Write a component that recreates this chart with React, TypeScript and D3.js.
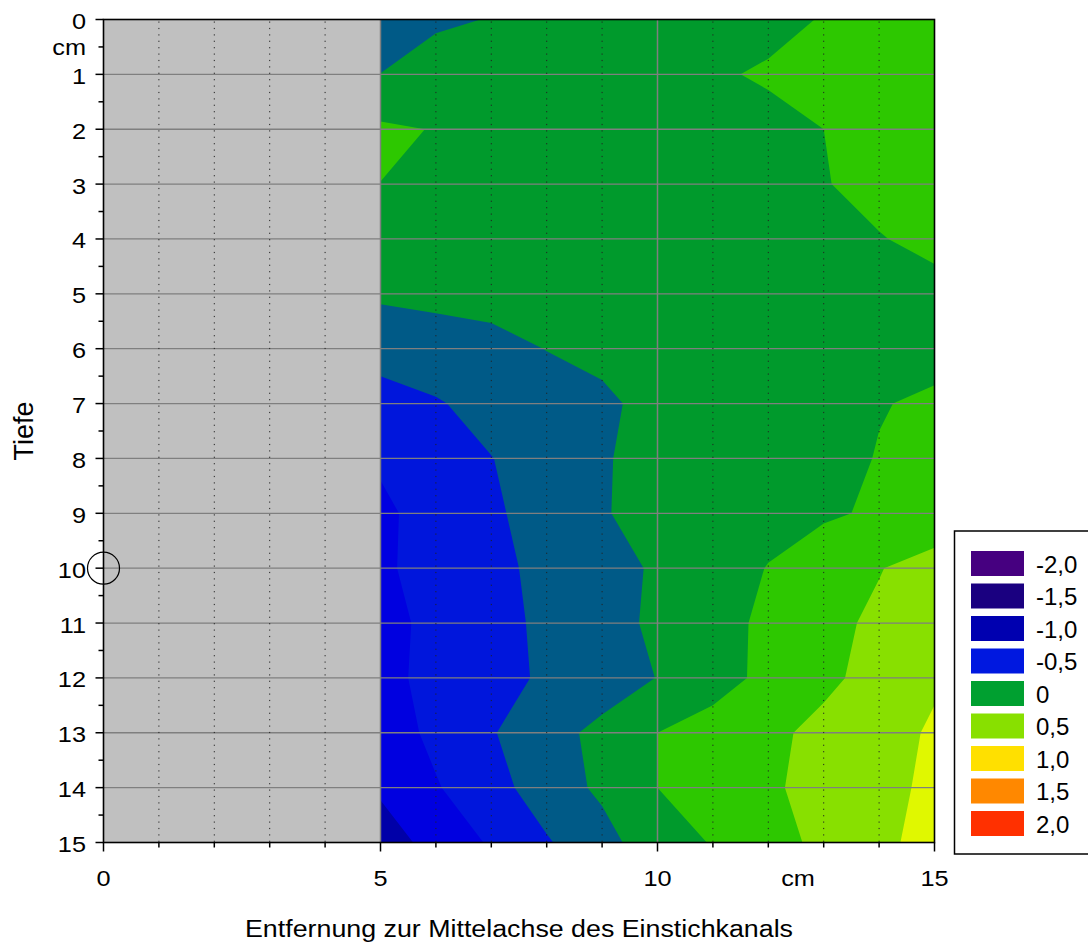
import React, { useRef, useEffect } from 'react';
import * as d3 from 'd3';

// sampling positions of the measured field (cm)
const distances = [5, 6, 7, 8, 9, 10, 11, 12, 13, 14, 15];
const depths = [0, 1, 2, 3, 4, 5, 6, 7, 8, 9, 10, 11, 12, 13, 14, 15];

// one row per depth, one value per distance
const grid = [
  [-0.15, -0.02, 0.005, 0.04, 0.07, 0.10, 0.14, 0.20, 0.26, 0.30, 0.33],
  [0.003, 0.06, 0.08, 0.10, 0.12, 0.15, 0.23, 0.27, 0.30, 0.33, 0.35],
  [0.29, 0.24, 0.12, 0.10, 0.11, 0.13, 0.16, 0.20, 0.25, 0.30, 0.33],
  [0.248, 0.12, 0.10, 0.09, 0.10, 0.12, 0.15, 0.19, 0.24, 0.31, 0.34],
  [0.06, 0.08, 0.08, 0.09, 0.10, 0.12, 0.15, 0.18, 0.21, 0.24, 0.30],
  [0.04, 0.06, 0.08, 0.09, 0.10, 0.11, 0.13, 0.15, 0.17, 0.18, 0.19],
  [-0.17, -0.11, -0.07, 0.005, 0.04, 0.07, 0.10, 0.13, 0.16, 0.19, 0.22],
  [-0.33, -0.27, -0.17, -0.10, -0.03, 0.05, 0.10, 0.15, 0.20, 0.245, 0.265],
  [-0.46, -0.38, -0.255, -0.15, -0.015, 0.06, 0.10, 0.15, 0.215, 0.255, 0.30],
  [-0.56, -0.38, -0.28, -0.17, -0.01, 0.05, 0.10, 0.16, 0.22, 0.28, 0.33],
  [-0.56, -0.36, -0.30, -0.20, -0.06, 0.02, 0.12, 0.26, 0.38, 0.49, 0.60],
  [-0.60, -0.42, -0.30, -0.22, -0.08, 0.04, 0.16, 0.30, 0.44, 0.54, 0.62],
  [-0.58, -0.42, -0.32, -0.22, -0.10, 0.005, 0.17, 0.30, 0.45, 0.58, 0.70],
  [-0.64, -0.44, -0.27, -0.07, 0.05, 0.25, 0.33, 0.45, 0.56, 0.60, 0.80],
  [-0.72, -0.52, -0.33, -0.14, 0.05, 0.25, 0.36, 0.47, 0.57, 0.68, 0.80],
  [-0.85, -0.68, -0.47, -0.27, -0.10, 0.17, 0.26, 0.42, 0.55, 0.70, 0.83],
];

const bandThresholds = [-0.75, -0.5, -0.25, 0, 0.25, 0.5, 0.75];
const bandColors = ['#0000a8', '#0000e0', '#0016dc', '#005a87', '#009a2c', '#2dc800', '#88e000', '#e0f800'];

const legendLabels = ['-2,0', '-1,5', '-1,0', '-0,5', '0', '0,5', '1,0', '1,5', '2,0'];
const legendColors = ['#460080', '#1a0080', '#0000b0', '#0018e0', '#00a030', '#88e000', '#ffe000', '#ff8800', '#ff3000'];

const xTickLabels = [0, 5, 10, 15];
const yTickLabels = [0, 1, 2, 3, 4, 5, 6, 7, 8, 9, 10, 11, 12, 13, 14, 15];

const FONT = '"Liberation Sans", Arial, sans-serif';

const App: React.FC = () => {
  const svgRef = useRef<SVGSVGElement>(null);

  useEffect(() => {
    if (!svgRef.current) return;
    const svg = d3.select(svgRef.current);
    svg.selectAll('*').remove();

    const x = d3.scaleLinear().domain([0, 15]).range([103.5, 934.5]);
    const y = d3.scaleLinear().domain([0, 15]).range([19.5, 842.5]);

    // stretched text like the original export
    const label = (g: any, tx: number, ty: number, txt: string, anchor: string, size: number, sx = 1) =>
      g.append('text')
        .attr('transform', `translate(${tx},${ty}) scale(${sx},1)`)
        .attr('text-anchor', anchor)
        .style('font-size', `${size}px`)
        .style('font-family', FONT)
        .attr('fill', '#000')
        .text(txt);

    // gray zone (needle channel)
    svg.append('rect')
      .attr('x', x(0)).attr('y', y(0))
      .attr('width', x(5) - x(0)).attr('height', y(15) - y(0))
      .attr('fill', '#c0c0c0');

    // contours
    svg.append('clipPath').attr('id', 'field')
      .append('rect')
      .attr('x', x(5)).attr('y', y(0))
      .attr('width', x(15) - x(5)).attr('height', y(15) - y(0));

    const nx = distances.length;
    const ny = depths.length;

    // where d3 puts sample i (i or i + 0.5 depending on version)
    const probe = d3.contours().size([2, 1]).thresholds([0.5])([0, 1]);
    const probeX = d3.min(probe[0].coordinates.flat(2) as any[], (p: any) => p[0]) as number;
    const off = probeX - 0.5;

    const gx = d3.scaleLinear().domain([off, off + nx - 1]).range([distances[0], distances[nx - 1]]);
    const gy = d3.scaleLinear().domain([off, off + ny - 1]).range([depths[0], depths[ny - 1]]);
    const path = d3.geoPath(d3.geoTransform({
      point(px: number, py: number) {
        (this as any).stream.point(x(gx(px)), y(gy(py)));
      },
    }));

    const field = svg.append('g').attr('clip-path', 'url(#field)');
    field.append('rect')
      .attr('x', x(5)).attr('y', y(0))
      .attr('width', x(15) - x(5)).attr('height', y(15) - y(0))
      .attr('fill', bandColors[0]);

    const bands = d3.contours().size([nx, ny]).thresholds(bandThresholds)(grid.flat());
    field.selectAll('path.band')
      .data(bands)
      .enter()
      .append('path')
      .attr('d', (d: any) => path(d))
      .attr('fill', (d: any, i: number) => bandColors[i + 1]);

    // grid lines
    const hLines = yTickLabels.filter(v => v > 0 && v < 15);
    svg.append('g').selectAll('line')
      .data(hLines).enter().append('line')
      .attr('x1', x(0)).attr('x2', x(15))
      .attr('y1', d => y(d)).attr('y2', d => y(d))
      .attr('stroke', '#7f7f7f').attr('stroke-width', 1.3);

    const minorX = d3.range(1, 15).filter(v => v % 5 !== 0);
    svg.append('g').selectAll('line')
      .data(minorX).enter().append('line')
      .attr('x1', d => x(d)).attr('x2', d => x(d))
      .attr('y1', y(0) + 2).attr('y2', y(15))
      .attr('stroke', '#222').attr('stroke-width', 1)
      .attr('stroke-dasharray', '1.2 5.2');

    svg.append('g').selectAll('line')
      .data([5, 10]).enter().append('line')
      .attr('x1', d => x(d)).attr('x2', d => x(d))
      .attr('y1', y(0)).attr('y2', y(15))
      .attr('stroke', '#7f7f7f').attr('stroke-width', 1.5);

    // frame
    svg.append('rect')
      .attr('x', x(0)).attr('y', y(0))
      .attr('width', x(15) - x(0)).attr('height', y(15) - y(0))
      .attr('fill', 'none').attr('stroke', '#000').attr('stroke-width', 1.6);

    // y axis
    const yAx = svg.append('g');
    yAx.selectAll('line.major')
      .data(yTickLabels).enter().append('line')
      .attr('x1', x(0) - 8).attr('x2', x(0))
      .attr('y1', d => y(d)).attr('y2', d => y(d))
      .attr('stroke', '#000').attr('stroke-width', 1.5);
    yAx.selectAll('line.minor')
      .data(d3.range(0.5, 15, 1)).enter().append('line')
      .attr('x1', x(0) - 5).attr('x2', x(0))
      .attr('y1', d => y(d)).attr('y2', d => y(d))
      .attr('stroke', '#000').attr('stroke-width', 1.5);
    yTickLabels.forEach(v => label(yAx, 86, y(v) + 9.5, String(v), 'end', 22, 1.15));
    label(yAx, 86, y(0.5) + 8, 'cm', 'end', 22, 1.15);

    // x axis
    const xAx = svg.append('g');
    xAx.selectAll('line.major')
      .data(xTickLabels).enter().append('line')
      .attr('x1', d => x(d)).attr('x2', d => x(d))
      .attr('y1', y(15)).attr('y2', y(15) + 9)
      .attr('stroke', '#000').attr('stroke-width', 1.5);
    xAx.selectAll('line.minor')
      .data(minorX).enter().append('line')
      .attr('x1', d => x(d)).attr('x2', d => x(d))
      .attr('y1', y(15)).attr('y2', y(15) + 5)
      .attr('stroke', '#000').attr('stroke-width', 1.5);
    xTickLabels.forEach(v => label(xAx, x(v), 886, String(v), 'middle', 22, 1.15));
    label(xAx, 798, 886, 'cm', 'middle', 22, 1.15);

    // titles
    svg.append('text')
      .attr('x', (x(0) + x(15)) / 2).attr('y', 936.5)
      .attr('text-anchor', 'middle')
      .attr('textLength', 548).attr('lengthAdjust', 'spacingAndGlyphs')
      .style('font-size', '23px').style('font-family', FONT)
      .text('Entfernung zur Mittelachse des Einstichkanals');
    svg.append('text')
      .attr('transform', `translate(33,${(y(0) + y(15)) / 2}) rotate(-90)`)
      .attr('text-anchor', 'middle')
      .style('font-size', '27px').style('font-family', FONT)
      .text('Tiefe');

    // marker at the channel axis
    svg.append('circle')
      .attr('cx', x(0)).attr('cy', y(10)).attr('r', 16)
      .attr('fill', 'none').attr('stroke', '#000').attr('stroke-width', 1.2);

    // legend
    const lg = svg.append('g');
    lg.append('rect')
      .attr('x', 954.5).attr('y', 531)
      .attr('width', 140).attr('height', 323)
      .attr('fill', '#fff').attr('stroke', '#000').attr('stroke-width', 1.5);
    legendLabels.forEach((t, i) => {
      const cy = 563.5 + i * 32.5;
      lg.append('rect')
        .attr('x', 971).attr('y', cy - 12.5)
        .attr('width', 53).attr('height', 25)
        .attr('fill', legendColors[i]);
      label(lg, 1036, cy + 9, t, 'start', 24, 1);
    });
  }, []);

  return (
    <svg
      ref={svgRef}
      width={1088}
      height={942}
      style={{ position: 'absolute', left: 0, top: 0, background: '#fff' }}
    />
  );
};

export default App;
